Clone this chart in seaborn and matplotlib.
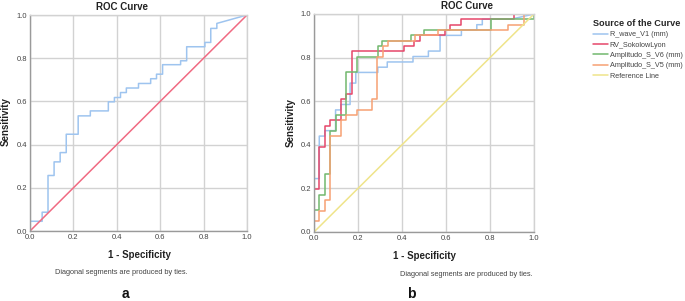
import matplotlib
matplotlib.use("Agg")
import matplotlib.pyplot as plt
import seaborn as sns
import pandas as pd

# ---------------- data ----------------
ticks = [0.0, 0.2, 0.4, 0.6, 0.8, 1.0]
tick_labels = ["0.0", "0.2", "0.4", "0.6", "0.8", "1.0"]

# panel a : single ROC curve
a_fpr = [0, 0, 0.056, 0.056, 0.083, 0.083, 0.111, 0.111, 0.139, 0.139, 0.167, 0.167,
         0.222, 0.222, 0.278, 0.278, 0.361, 0.361, 0.389, 0.389, 0.417, 0.417,
         0.444, 0.444, 0.5, 0.5, 0.556, 0.556, 0.583, 0.583, 0.611, 0.611,
         0.694, 0.694, 0.722, 0.722, 0.806, 0.806, 0.833, 0.833, 0.861, 0.861, 1.0]
a_tpr = [0, 0.045, 0.045, 0.087, 0.087, 0.257, 0.257, 0.32, 0.32, 0.363, 0.363, 0.448,
         0.448, 0.533, 0.533, 0.556, 0.556, 0.598, 0.598, 0.618, 0.618, 0.641,
         0.641, 0.662, 0.662, 0.683, 0.683, 0.705, 0.705, 0.726, 0.726, 0.77,
         0.77, 0.788, 0.788, 0.853, 0.853, 0.873, 0.873, 0.938, 0.938, 0.961, 1.0]

# panel b : four ROC curves
rwave_fpr = [0, 0, 0.024, 0.024, 0.049, 0.049, 0.098, 0.098, 0.122, 0.122, 0.164, 0.164,
             0.19, 0.19, 0.29, 0.29, 0.333, 0.333, 0.45, 0.45, 0.52, 0.52, 0.573, 0.573,
             0.67, 0.67, 0.74, 0.74, 0.765, 0.765, 0.895, 1.0]
rwave_tpr = [0, 0.245, 0.245, 0.44, 0.44, 0.465, 0.465, 0.56, 0.56, 0.585, 0.585, 0.683,
             0.683, 0.732, 0.732, 0.756, 0.756, 0.78, 0.78, 0.805, 0.805, 0.83, 0.83, 0.902,
             0.902, 0.927, 0.927, 0.951, 0.951, 0.976, 0.976, 1.0]

rvsok_fpr = [0, 0, 0.024, 0.024, 0.049, 0.049, 0.073, 0.073, 0.122, 0.122, 0.146, 0.146,
             0.171, 0.171, 0.41, 0.41, 0.456, 0.456, 0.48, 0.48, 0.596, 0.596, 0.62, 0.62,
             0.668, 0.668, 0.908, 0.908, 1.0]
rvsok_tpr = [0, 0.195, 0.195, 0.39, 0.39, 0.488, 0.488, 0.512, 0.512, 0.61, 0.61, 0.634,
             0.634, 0.829, 0.829, 0.854, 0.854, 0.878, 0.878, 0.902, 0.902, 0.927, 0.927,
             0.951, 0.951, 0.976, 0.976, 1.0, 1.0]

sv6_fpr = [0, 0, 0.024, 0.024, 0.049, 0.049, 0.073, 0.073, 0.098, 0.098, 0.146, 0.146,
           0.195, 0.195, 0.29, 0.29, 0.31, 0.31, 0.44, 0.44, 0.5, 0.5, 0.805, 0.805, 1.0, 1.0]
sv6_tpr = [0, 0.1, 0.1, 0.17, 0.17, 0.268, 0.268, 0.465, 0.465, 0.538, 0.538, 0.732,
           0.732, 0.805, 0.805, 0.854, 0.854, 0.878, 0.878, 0.902, 0.902, 0.927, 0.927,
           0.976, 0.976, 1.0]

sv5_fpr = [0, 0, 0.024, 0.024, 0.049, 0.049, 0.073, 0.073, 0.122, 0.122, 0.146, 0.146,
           0.195, 0.195, 0.264, 0.264, 0.288, 0.288, 0.312, 0.312, 0.336, 0.336, 0.46, 0.46,
           0.564, 0.564, 0.88, 0.88, 0.956, 0.956, 1.0]
sv5_tpr = [0, 0.05, 0.05, 0.098, 0.098, 0.147, 0.147, 0.44, 0.44, 0.515, 0.515, 0.537,
           0.537, 0.56, 0.56, 0.61, 0.61, 0.805, 0.805, 0.854, 0.854, 0.878, 0.878, 0.902,
           0.902, 0.927, 0.927, 0.951, 0.951, 1.0, 1.0]

ref_fpr = [0.0, 1.0]
ref_tpr = [0.0, 1.0]

series_names = ["R_wave_V1 (mm)", "RV_SokolowLyon", "Amplitudo_S_V6 (mm)",
                "Amplitudo_S_V5 (mm)", "Reference Line"]
series_colors = ["#9ec4ef", "#e5476a", "#72b86e", "#f7a073", "#efe48a"]

# ---------------- style ----------------
sns.set_style("white")
plt.rcParams["font.family"] = ["Liberation Sans", "DejaVu Sans"]

fig = plt.figure(figsize=(6.85, 3.01), dpi=100)
ax_a = fig.add_axes([30 / 685, 1 - 231 / 301, 217 / 685, 216 / 301])
ax_b = fig.add_axes([314 / 685, 1 - 232 / 301, 220 / 685, 218 / 301])

# panel a
df_a = pd.DataFrame({"fpr": a_fpr, "tpr": a_tpr})
sns.lineplot(data=df_a, x="fpr", y="tpr", sort=False, estimator=None,
             color="#9ec4ef", lw=1.1, ax=ax_a)
df_ra = pd.DataFrame({"fpr": ref_fpr, "tpr": ref_tpr})
sns.lineplot(data=df_ra, x="fpr", y="tpr", sort=False, estimator=None,
             color="#f06a82", lw=1.1, ax=ax_a)

# panel b
frames = []
for name, fx, ty in zip(series_names,
                        [rwave_fpr, rvsok_fpr, sv6_fpr, sv5_fpr, ref_fpr],
                        [rwave_tpr, rvsok_tpr, sv6_tpr, sv5_tpr, ref_tpr]):
    frames.append(pd.DataFrame({"fpr": fx, "tpr": ty, "curve": name}))
df_b = pd.concat(frames, ignore_index=True)
sns.lineplot(data=df_b, x="fpr", y="tpr", hue="curve", hue_order=series_names,
             palette=dict(zip(series_names, series_colors)), sort=False,
             estimator=None, lw=1.1, ax=ax_b)

for ax in (ax_a, ax_b):
    ax.set_xlim(0, 1)
    ax.set_ylim(0, 1)
    ax.set_xticks(ticks)
    ax.set_yticks(ticks)
    ax.set_xticklabels(tick_labels)
    ax.set_yticklabels(tick_labels)
    ax.tick_params(length=0, pad=2, labelsize=5.5, labelcolor="#444444")
    ax.grid(True, color="#d2d2d2", lw=1.0)
    ax.set_axisbelow(True)
    for s in ("top", "right"):
        ax.spines[s].set_color("#d2d2d2")
    for s in ("left", "bottom"):
        ax.spines[s].set_color("#9a9a9a")
    for s in ax.spines.values():
        s.set_linewidth(1.0)
    ax.set_xlabel("")
    ax.set_ylabel("")

# legend
handles, labels = ax_b.get_legend_handles_labels()
ax_b.get_legend().remove()
leg = fig.legend(handles, labels, loc="upper left", bbox_to_anchor=(593 / 685, 1 - 19 / 301),
                 frameon=False, fontsize=5.2, title="Source of the Curve",
                 title_fontproperties={"weight": "bold", "size": 6.6},
                 handlelength=2.1, handletextpad=0.2, labelspacing=0.45,
                 alignment="left", borderaxespad=0, borderpad=0)
for t in leg.get_texts():
    t.set_color("#444444")
for h in leg.get_lines():
    h.set_linewidth(1.1)

# texts
def ftext(x, y, s, **kw):
    fig.text(x / 685, 1 - y / 301, s, ha="center", va="center", **kw)

ftext(122, 7, "ROC Curve", fontsize=7, fontweight="bold", color="#222222")
ftext(467, 6, "ROC Curve", fontsize=7, fontweight="bold", color="#222222")
ftext(139, 255, "1 - Specificity", fontsize=7, fontweight="bold", color="#222222")
ftext(424, 256, "1 - Specificity", fontsize=7, fontweight="bold", color="#222222")
ftext(6, 122, "Sensitivity", fontsize=7, fontweight="bold", color="#222222", rotation=90)
ftext(291, 123, "Sensitivity", fontsize=7, fontweight="bold", color="#222222", rotation=90)
ftext(121, 273, "Diagonal segments are produced by ties.", fontsize=5.3, color="#444444")
ftext(466, 274, "Diagonal segments are produced by ties.", fontsize=5.3, color="#444444")
ftext(125, 294, "a", fontsize=10, fontweight="bold", color="#111111")
ftext(411, 294, "b", fontsize=10, fontweight="bold", color="#111111")

fig.savefig("out.png", dpi=100)
